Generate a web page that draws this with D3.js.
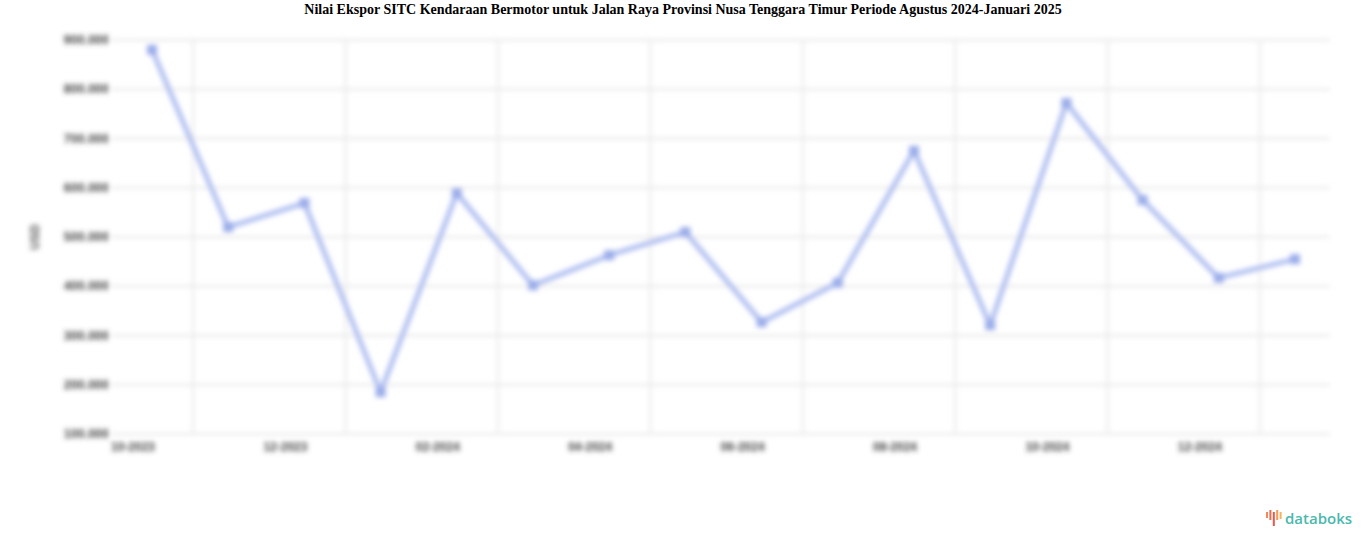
<!DOCTYPE html>
<html>
<head>
<meta charset="utf-8">
<script src="https://cdn.jsdelivr.net/npm/d3@7"></script>
<style>
  html, body { margin: 0; padding: 0; background: #fff; }
  svg { display: block; }
</style>
</head>
<body>
<div id="chart"></div>
<script>
const title = "Nilai Ekspor SITC Kendaraan Bermotor untuk Jalan Raya Provinsi Nusa Tenggara Timur Periode Agustus 2024-Januari 2025";
const yAxisTitle = "USD";
const months = ["10-2023","11-2023","12-2023","01-2024","02-2024","03-2024","04-2024","05-2024",
                "06-2024","07-2024","08-2024","09-2024","10-2024","11-2024","12-2024","01-2025"];
const values = [880000, 520000, 569000, 185000, 589000, 402000, 463000, 510000,
                327000, 407000, 675000, 321000, 772000, 575000, 417000, 455000];
const xTickLabels = ["10-2023","12-2023","02-2024","04-2024","06-2024","08-2024","10-2024","12-2024"];
const yTicks = [100000, 200000, 300000, 400000, 500000, 600000, 700000, 800000, 900000];

const W = 1366, H = 547;
const plot = { left: 112, right: 1330, top: 40, bottom: 434 };

const svg = d3.select("#chart").append("svg").attr("width", W).attr("height", H);

const defs = svg.append("defs");
defs.append("filter").attr("id", "blur").attr("x", "-5%").attr("y", "-5%").attr("width", "110%").attr("height", "110%")
  .append("feGaussianBlur").attr("stdDeviation", 2.8);

svg.append("text")
  .attr("x", W / 2).attr("y", 14)
  .attr("text-anchor", "middle")
  .attr("font-family", "Liberation Serif, Times New Roman, serif")
  .attr("font-weight", "bold")
  .attr("font-size", 14)
  .attr("fill", "#000")
  .text(title);

const x = d3.scaleLinear().domain([0, months.length - 1]).range([152, 1295]);
const y = d3.scaleLinear().domain([100000, 900000]).range([plot.bottom, plot.top]);

const g = svg.append("g").attr("filter", "url(#blur)");

g.append("g").selectAll("line").data(yTicks).join("line")
  .attr("x1", plot.left).attr("x2", plot.right)
  .attr("y1", d => y(d)).attr("y2", d => y(d))
  .attr("stroke", "#e6e6e6").attr("stroke-width", 2);

const vGrid = d3.range(0.54, months.length - 1, 2);
g.append("g").selectAll("line").data(vGrid).join("line")
  .attr("x1", d => x(d)).attr("x2", d => x(d))
  .attr("y1", plot.top).attr("y2", plot.bottom)
  .attr("stroke", "#e8e8e8").attr("stroke-width", 2);

const fmt = d3.format(",.0f");
g.append("g").selectAll("text").data(yTicks).join("text")
  .attr("x", 109).attr("y", d => y(d) + 4)
  .attr("text-anchor", "end")
  .attr("font-family", "Liberation Sans, Arial, sans-serif")
  .attr("font-size", 12.5)
  .attr("font-weight", "bold")
  .attr("fill", "#444")
  .text(d => fmt(d).replace(/,/g, "."));

g.append("text")
  .attr("transform", `translate(39,${(plot.top + plot.bottom) / 2}) rotate(-90)`)
  .attr("text-anchor", "middle")
  .attr("font-family", "Liberation Sans, Arial, sans-serif")
  .attr("font-size", 12)
  .attr("font-weight", "bold")
  .attr("fill", "#555")
  .text(yAxisTitle);

g.append("g").selectAll("text").data(xTickLabels).join("text")
  .attr("x", d => x(months.indexOf(d)) - 19)
  .attr("y", 451)
  .attr("text-anchor", "middle")
  .attr("font-family", "Liberation Sans, Arial, sans-serif")
  .attr("font-size", 12)
  .attr("font-weight", "bold")
  .attr("fill", "#444")
  .text(d => d);

const data = values.map((v, i) => ({ i, v }));
g.append("path").datum(data)
  .attr("fill", "none")
  .attr("stroke", "#afbef0")
  .attr("stroke-width", 5)
  .attr("stroke-linejoin", "round")
  .attr("d", d3.line().x(d => x(d.i)).y(d => y(d.v)));

g.append("g").selectAll("rect").data(data).join("rect")
  .attr("x", d => x(d.i) - 5).attr("y", d => y(d.v) - 5)
  .attr("width", 10).attr("height", 10)
  .attr("fill", "#9badea");

const logo = svg.append("g").attr("transform", "translate(1266,510)");
const barsH = [6, 10, 14, 10, 7];
const barsC = ["#f08a5d", "#ef6b4f", "#e8574a", "#f29b5a", "#f5b25c"];
logo.selectAll("rect").data(barsH).join("rect")
  .attr("x", (d, i) => i * 3.4).attr("y", (d, i) => (i % 2 === 0 ? 2 : 0))
  .attr("width", 2).attr("height", d => d)
  .attr("fill", (d, i) => barsC[i]);
logo.append("text")
  .attr("x", 19).attr("y", 14)
  .attr("font-family", "Open Sans, Noto Sans, sans-serif")
  .attr("font-size", 15)
  .attr("font-weight", 600)
  .attr("fill", "#4bb8ad")
  .text("databoks");
</script>
</body>
</html>
